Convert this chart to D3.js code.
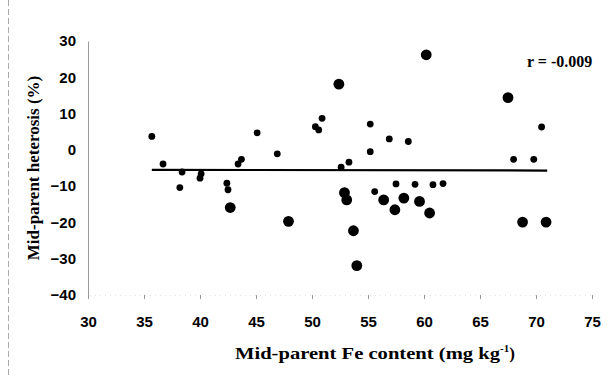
<!DOCTYPE html>
<html>
<head>
<meta charset="utf-8">
<script src="https://cdn.jsdelivr.net/npm/d3@7"></script>
<style>
  body { margin: 0; background: #fff; }
  svg { display: block; }
</style>
</head>
<body>
<svg id="chart" width="612" height="376"></svg>
<script>
// small dots
const smallX = [35.7, 36.7, 38.4, 38.2, 40.1, 40.0, 42.4, 42.5, 43.4, 43.7, 45.1, 46.9, 50.3, 50.6, 50.9,
  52.6, 53.3, 55.2, 55.2, 56.9, 58.6, 55.6, 57.5, 59.2, 60.8, 61.7, 70.5, 68.0, 69.8]
const smallY = [3.7, -3.9, -6.1, -10.4, -6.6, -7.8, -9.2, -11.0, -3.9, -2.6, 4.7, -1.1, 6.4, 5.5, 8.7,
  -4.8, -3.4, 7.1, -0.5, 3.0, 2.3, -11.5, -9.4, -9.5, -9.6, -9.3, 6.3, -2.6, -2.6]
// large dots
const largeX = [42.7, 47.9, 52.4, 60.2, 67.5, 52.9, 53.1, 53.7, 54.0, 56.4, 57.4, 58.2, 59.6, 60.5, 68.8, 70.9]
const largeY = [-15.9, -19.7, 18.1, 26.2, 14.4, -11.8, -13.8, -22.3, -31.9, -13.8, -16.5, -13.3, -14.2, -17.4, -19.9, -19.9]

// fitted line ends
const fitX = [35.7, 71.0]
const fitY = [-5.5, -5.7]

const xTicks = [30, 35, 40, 45, 50, 55, 60, 65, 70, 75]
const yTicks = [30, 20, 10, 0, -10, -20, -30, -40]
const rLabel = "r = -0.009"

const svg = d3.select("#chart")

const x = d3.scaleLinear().domain([30, 75]).range([88, 592])
const y = d3.scaleLinear().domain([-40, 30]).range([295, 41])

// scan edge
svg.append("line")
  .attr("x1", 8.5).attr("x2", 8.5).attr("y1", 0).attr("y2", 376)
  .attr("stroke", "#aaa").attr("stroke-width", 1).attr("stroke-dasharray", "6,3")

// y axis
const yAxis = svg.append("g")
  .attr("transform", "translate(88,0)")
  .call(d3.axisLeft(y).tickValues(yTicks).tickSize(0).tickPadding(12))
yAxis.select(".domain").attr("stroke", "#999").attr("stroke-width", 1)
yAxis.selectAll("text")
  .attr("font-family", "Liberation Sans, Arial, sans-serif")
  .attr("font-weight", "bold")
  .attr("font-size", 15)
  .attr("fill", "#000")

// x axis
const xAxis = svg.append("g")
  .attr("transform", "translate(0,295)")
  .call(d3.axisBottom(x).tickValues(xTicks).tickSize(4).tickPadding(17))
xAxis.select(".domain").attr("stroke", "#ccc").attr("stroke-width", 0.6).attr("stroke-dasharray", "1,4")
xAxis.selectAll(".tick line").attr("stroke", "#999")
xAxis.selectAll("text")
  .attr("font-family", "Liberation Sans, Arial, sans-serif")
  .attr("font-weight", "bold")
  .attr("font-size", 15)
  .attr("fill", "#000")

// regression line
svg.append("path")
  .datum(fitX.map((v, i) => [v, fitY[i]]))
  .attr("d", d3.line().x(d => x(d[0])).y(d => y(d[1])))
  .attr("stroke", "#000")
  .attr("stroke-width", 2.2)
  .attr("fill", "none")

// dots
svg.append("g").selectAll("circle")
  .data(smallX.map((v, i) => [v, smallY[i]]))
  .join("circle")
  .attr("cx", d => x(d[0]))
  .attr("cy", d => y(d[1]))
  .attr("r", 3.4)
  .attr("fill", "#000")

svg.append("g").selectAll("circle")
  .data(largeX.map((v, i) => [v, largeY[i]]))
  .join("circle")
  .attr("cx", d => x(d[0]))
  .attr("cy", d => y(d[1]))
  .attr("r", 5.4)
  .attr("fill", "#000")

// r value
svg.append("text")
  .attr("x", 527).attr("y", 67)
  .attr("font-family", "Liberation Serif, Times New Roman, serif")
  .attr("font-weight", "bold")
  .attr("font-size", 16)
  .text(rLabel)

// axis titles
svg.append("text")
  .attr("transform", "translate(39,168) rotate(-90)")
  .attr("text-anchor", "middle")
  .attr("font-family", "Liberation Serif, Times New Roman, serif")
  .attr("font-weight", "bold")
  .attr("font-size", 17)
  .text("Mid-parent heterosis (%)")

const xt = svg.append("text")
  .attr("x", 235).attr("y", 359)
  .attr("font-family", "Liberation Serif, Times New Roman, serif")
  .attr("font-weight", "bold")
  .attr("font-size", 17)
xt.append("tspan").attr("textLength", 265).attr("lengthAdjust", "spacingAndGlyphs").text("Mid-parent Fe content (mg kg")
xt.append("tspan").attr("font-size", 11).attr("dy", -7).text("-1")
xt.append("tspan").attr("dy", 7).text(")")
</script>
</body>
</html>
